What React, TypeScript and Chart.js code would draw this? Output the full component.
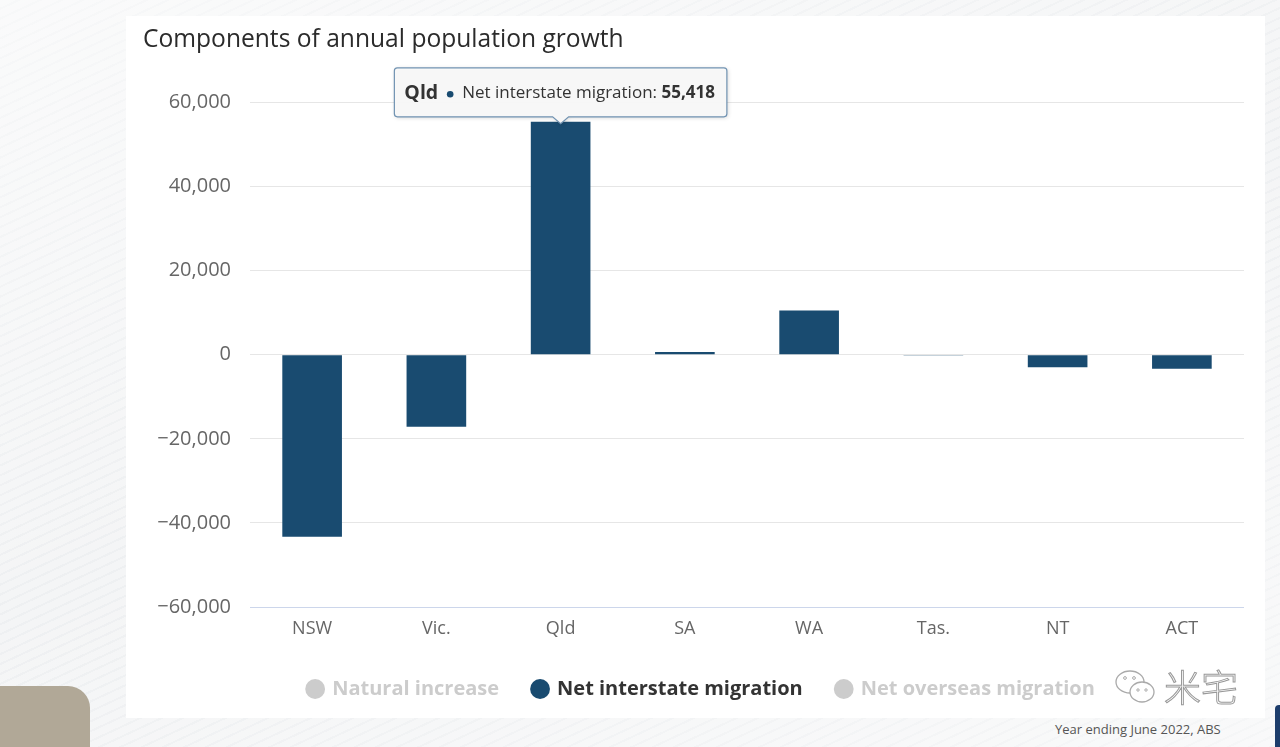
import React, { useEffect, useRef } from 'react';
import { Chart, registerables } from 'chart.js';

Chart.register(...registerables);

// ---- data ----
const categories = ['NSW', 'Vic.', 'Qld', 'SA', 'WA', 'Tas.', 'NT', 'ACT'];
const naturalIncrease: number[] = [];
const netInterstateMigration = [-43300, -17150, 55418, 650, 10500, -30, -3000, -3350];
const netOverseasMigration: number[] = [];
const seriesNames = ['Natural increase', 'Net interstate migration', 'Net overseas migration'];
const yMin = -60000;
const yMax = 60000;
const yStep = 20000;
const highlightedCategory = 'Qld';
const titleText = 'Components of annual population growth';
const sourceText = 'Year ending June 2022, ABS';

const FONT = '"Open Sans", "Noto Sans", sans-serif';
const SERIES_COLOR = '#194b70';

const fmt = (v: number) => (v < 0 ? '\u2212' : '') + Math.abs(v).toLocaleString('en-US');

const legendShiftPlugin = {
  id: 'legendShift',
  afterLayout(chart: any) {
    if (chart.legend) {
      chart.legend.left += 8;
      chart.legend.right += 8;
    }
  },
};

const calloutPlugin = {
  id: 'callout',
  afterDraw(chart: any) {
    const dsIndex = 1;
    const idx = categories.indexOf(highlightedCategory);
    const meta = chart.getDatasetMeta(dsIndex);
    const el = meta && meta.data[idx];
    if (!el) return;
    const { x, y } = el.getProps(['x', 'y'], true);
    const ctx: CanvasRenderingContext2D = chart.ctx;
    const value = netInterstateMigration[idx];

    const fTitle = `bold 19.5px ${FONT}`;
    const fText = `17px ${FONT}`;
    const fVal = `bold 17px ${FONT}`;
    ctx.save();
    ctx.font = fTitle;
    const wTitle = ctx.measureText(highlightedCategory).width;
    ctx.font = fText;
    const label = seriesNames[dsIndex] + ': ';
    const wLabel = ctx.measureText(label).width;
    ctx.font = fVal;
    const valStr = fmt(value);
    const wVal = ctx.measureText(valStr).width;
    const bulletGap = 24;
    const textW = wTitle + bulletGap + wLabel + wVal;
    const padL = 10;
    const padR = 12;
    const boxW = textW + padL + padR;
    const boxH = 49;
    const caretH = 7;
    const caretW = 8;
    const bottom = y - 5;
    const top = bottom - boxH;
    const left = x - boxW / 2;
    const right = left + boxW;
    const r = 3;

    ctx.beginPath();
    ctx.moveTo(left + r, top);
    ctx.lineTo(right - r, top);
    ctx.quadraticCurveTo(right, top, right, top + r);
    ctx.lineTo(right, bottom - r);
    ctx.quadraticCurveTo(right, bottom, right - r, bottom);
    ctx.lineTo(x + caretW, bottom);
    ctx.lineTo(x, bottom + caretH);
    ctx.lineTo(x - caretW, bottom);
    ctx.lineTo(left + r, bottom);
    ctx.quadraticCurveTo(left, bottom, left, bottom - r);
    ctx.lineTo(left, top + r);
    ctx.quadraticCurveTo(left, top, left + r, top);
    ctx.closePath();
    ctx.shadowColor = 'rgba(0,0,0,0.18)';
    ctx.shadowBlur = 4;
    ctx.shadowOffsetX = 1;
    ctx.shadowOffsetY = 1;
    ctx.fillStyle = 'rgba(248,248,248,0.97)';
    ctx.fill();
    ctx.shadowColor = 'transparent';
    ctx.lineWidth = 1.2;
    ctx.strokeStyle = '#7193b2';
    ctx.stroke();

    const cy = top + boxH / 2 + 1;
    let cx = left + padL;
    ctx.textBaseline = 'middle';
    ctx.textAlign = 'left';
    ctx.fillStyle = '#333333';
    ctx.font = fTitle;
    ctx.fillText(highlightedCategory, cx, cy);
    cx += wTitle;
    ctx.beginPath();
    ctx.arc(cx + 12, cy + 1, 3.3, 0, Math.PI * 2);
    ctx.fillStyle = SERIES_COLOR;
    ctx.fill();
    cx += bulletGap;
    ctx.fillStyle = '#333333';
    ctx.font = fText;
    ctx.fillText(label, cx, cy);
    cx += wLabel;
    ctx.font = fVal;
    ctx.fillText(valStr, cx, cy);
    ctx.restore();
  },
};

function PopulationChart() {
  const ref = useRef<HTMLCanvasElement | null>(null);
  useEffect(() => {
    if (!ref.current) return;
    const chart = new Chart(ref.current, {
      type: 'bar',
      data: {
        labels: categories,
        datasets: [
          { label: seriesNames[0], data: naturalIncrease, backgroundColor: '#7cb5ec', hidden: true },
          { label: seriesNames[1], data: netInterstateMigration, backgroundColor: SERIES_COLOR },
          { label: seriesNames[2], data: netOverseasMigration, backgroundColor: '#90ed7d', hidden: true },
        ],
      },
      options: {
        animation: false,
        responsive: false,
        devicePixelRatio: 1,
        events: [],
        layout: { padding: { left: 17, right: 21, top: 0, bottom: 9 } },
        datasets: { bar: { barPercentage: 0.48, categoryPercentage: 1 } },
        scales: {
          x: {
            grid: { display: false, drawTicks: false },
            border: { display: false },
            ticks: {
              color: '#666666',
              font: { family: FONT, size: 18 },
              padding: 11,
              maxRotation: 0,
              autoSkip: false,
            },
            afterFit: (s: any) => {
              s.height = 38;
            },
          },
          y: {
            min: yMin,
            max: yMax,
            grid: {
              drawTicks: false,
              color: (c: any) => (c.tick && c.tick.value === yMin ? '#ccd6eb' : '#e6e6e6'),
              lineWidth: 1,
            },
            border: { display: false },
            ticks: {
              stepSize: yStep,
              color: '#666666',
              font: { family: FONT, size: 20 },
              padding: 19,
              callback: (v: any) => fmt(Number(v)),
            },
            afterFit: (s: any) => {
              s.width = 107;
            },
          },
        },
        plugins: {
          tooltip: { enabled: false },
          title: {
            display: true,
            text: titleText,
            align: 'start',
            color: '#2b2b2b',
            font: { family: FONT, size: 24.6, weight: 'normal' },
            padding: { top: 9, bottom: 48 },
          },
          legend: {
            display: true,
            position: 'bottom',
            align: 'center',
            onClick: () => {},
            labels: {
              usePointStyle: true,
              pointStyle: 'circle',
              boxWidth: 14,
              boxHeight: 14,
              padding: 34,
              font: { family: FONT, size: 20, weight: 'bold' },
              generateLabels: (ch: any) =>
                ch.data.datasets.map((ds: any, i: number) => {
                  const hidden = !ch.isDatasetVisible(i);
                  const c = hidden ? '#cccccc' : ds.backgroundColor;
                  return {
                    text: ds.label,
                    fillStyle: c,
                    strokeStyle: c,
                    fontColor: hidden ? '#cccccc' : '#333333',
                    lineWidth: 0,
                    hidden: false,
                    pointStyle: 'circle',
                    datasetIndex: i,
                  };
                }),
            },
          },
        },
      },
      plugins: [legendShiftPlugin, calloutPlugin],
    } as any);
    return () => chart.destroy();
  }, []);
  return (
    <canvas
      ref={ref}
      width={1139}
      height={702}
      style={{ position: 'absolute', left: 126, top: 16, width: 1139, height: 702, display: 'block' }}
    />
  );
}

export default function App() {
  return (
    <div
      style={{
        position: 'absolute',
        left: 0,
        top: 0,
        width: 1280,
        height: 747,
        overflow: 'hidden',
        background:
          'repeating-linear-gradient(155deg, #f3f4f5 0px, #f3f4f5 7px, #eceef0 7px, #eceef0 9px)',
      }}
    >
      <div
        style={{
          position: 'absolute',
          left: 0,
          top: 0,
          width: 1280,
          height: 747,
          background: 'linear-gradient(160deg, rgba(255,255,255,0.6) 0%, rgba(255,255,255,0.1) 50%, rgba(255,255,255,0.5) 100%)',
        }}
      />
      <div
        style={{
          position: 'absolute',
          left: 126,
          top: 16,
          width: 1139,
          height: 702,
          background: '#ffffff',
        }}
      />
      <PopulationChart />
      <div
        style={{
          position: 'absolute',
          left: -20,
          top: 686,
          width: 110,
          height: 90,
          borderRadius: 22,
          background: '#b1a897',
        }}
      />
      <div
        style={{
          position: 'absolute',
          left: 1275,
          top: 705,
          width: 12,
          height: 50,
          borderRadius: 4,
          background: '#1d3d6c',
        }}
      />
      <div
        style={{
          position: 'absolute',
          left: 1055,
          top: 720,
          fontFamily: FONT,
          fontSize: 13,
          color: '#555555',
          whiteSpace: 'nowrap',
        }}
      >
        {sourceText}
      </div>
      <svg
        width={44}
        height={40}
        viewBox="0 0 44 40"
        style={{ position: 'absolute', left: 1114, top: 668 }}
      >
        <ellipse cx={16} cy={14} rx={14} ry={11} fill="none" stroke="#aaaaaa" strokeWidth={1.3} />
        <ellipse cx={28} cy={24} rx={12} ry={10} fill="#ffffff" stroke="#aaaaaa" strokeWidth={1.3} />
        <circle cx={11} cy={10} r={1.4} fill="none" stroke="#aaaaaa" />
        <circle cx={20} cy={10} r={1.4} fill="none" stroke="#aaaaaa" />
        <circle cx={24} cy={22} r={1.2} fill="none" stroke="#aaaaaa" />
        <circle cx={32} cy={22} r={1.2} fill="none" stroke="#aaaaaa" />
      </svg>
      <div
        style={{
          position: 'absolute',
          left: 1164,
          top: 663,
          fontFamily: '"Noto Sans CJK SC", sans-serif',
          fontSize: 37,
          fontWeight: 300,
          color: '#ffffff',
          WebkitTextStroke: '1px #999999',
          whiteSpace: 'nowrap',
          lineHeight: '46px',
        }}
      >
        米宅
      </div>
    </div>
  );
}
